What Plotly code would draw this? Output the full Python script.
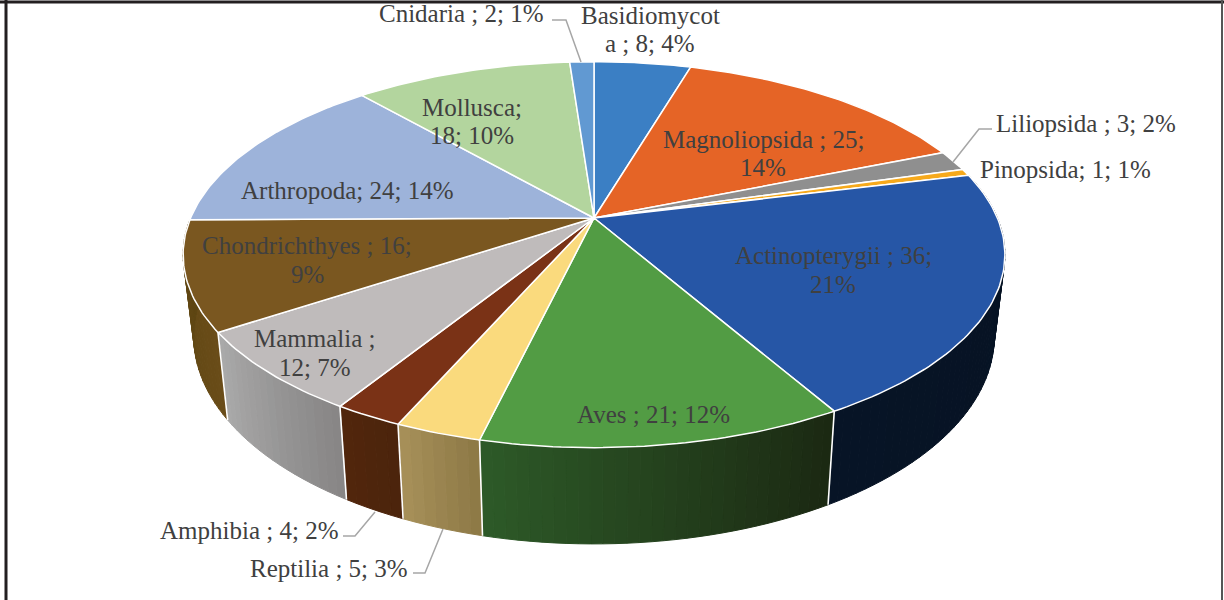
import math
import plotly.graph_objects as go

categories = ["Basidiomycota", "Magnoliopsida", "Liliopsida", "Pinopsida", "Actinopterygii", "Aves",
              "Reptilia", "Amphibia", "Mammalia", "Chondrichthyes", "Arthropoda", "Mollusca", "Cnidaria"]
values = [8, 25, 3, 1, 36, 21, 5, 4, 12, 16, 24, 18, 2]
top_colors = ["#3b7fc4", "#e56426", "#8f8f8f", "#f6a91c", "#2656a6", "#529c44", "#fada7d",
              "#7a3216", "#bfbbbb", "#7a5720", "#9db3da", "#b3d59e", "#6199d2"]
side_left = {"Actinopterygii": "#071426", "Aves": "#2d5a28", "Reptilia": "#a8915a", "Amphibia": "#52260c",
             "Mammalia": "#aaaaaa", "Chondrichthyes": "#5c4512"}
side_right = {"Actinopterygii": "#061222", "Aves": "#1b2812", "Reptilia": "#8c7845", "Amphibia": "#4b240c",
              "Mammalia": "#878585", "Chondrichthyes": "#6a4c18"}
label_texts = ["Basidiomycot", "a ; 8; 4%", "Cnidaria ; 2; 1%", "Magnoliopsida ; 25;", "14%", "Liliopsida ; 3; 2%",
               "Pinopsida; 1; 1%", "Actinopterygii ; 36;", "21%", "Aves ; 21; 12%", "Reptilia ; 5; 3%",
               "Amphibia ; 4; 2%", "Mammalia ;", "12; 7%", "Chondrichthyes ; 16;", "9%",
               "Arthropoda; 24; 14%", "Mollusca;", "18; 10%"]
label_x = [650, 650, 461, 763, 763, 1086, 1065, 833, 833, 653, 329, 249, 315, 315, 307, 307, 347, 472, 472]
label_y = [15, 43, 13, 139, 167, 123, 169, 255, 284, 414, 568, 530, 338, 367, 245, 274, 190, 107, 135]
leaders = [([552, 566, 581], [20, 20, 62]), ([992, 979, 953], [129, 129, 162]),
           ([343, 355, 375], [536, 536, 512]), ([413, 425, 443], [573, 573, 529])]

CX, CY, A, B, K = 594, 218, 403.4, 186, 0.19
CY2, A2, B2 = 297, 393, 200
TEXT = "#404040"


def rim(theta, cy=CY, a=A, b=B):
    d = 1 + K * math.cos(theta)
    return CX + a * math.sin(theta) / d, cy - b * math.cos(theta) / d


def hex_mix(c1, c2, t):
    p = [int(c1[i:i + 2], 16) for i in (1, 3, 5)]
    q = [int(c2[i:i + 2], 16) for i in (1, 3, 5)]
    return "rgb(%d,%d,%d)" % tuple(round(u + (v - u) * t) for u, v in zip(p, q))


total = sum(values)
edges = [0.0]
for v in values:
    edges.append(edges[-1] + v / total * 2 * math.pi)

fig = go.Figure()


def add(xs, ys, **kw):
    fig.add_trace(go.Scatter(x=xs, y=ys, hoverinfo="skip", showlegend=False, **kw))


# side walls (front slices), one narrow strip at a time for the shading
walls = []
for name, t0, t1 in zip(categories, edges[:-1], edges[1:]):
    if name not in side_left:
        continue
    n = max(2, int(abs(t1 - t0) * 40))
    for i in range(n):
        a0 = t0 + (t1 - t0) * i / n
        a1 = t0 + (t1 - t0) * (i + 1) / n
        f = 1 - (i + 0.5) / n
        col = hex_mix(side_left[name], side_right[name], f)
        m = 6
        arc = [a0 + (a1 - a0) * j / m for j in range(m + 1)]
        top = [rim(a) for a in arc]
        bot = [rim(a, CY2, A2, B2) for a in arc]
        pts = top + bot[::-1] + top[:1]
        add([p[0] for p in pts], [p[1] for p in pts], mode="lines", fill="toself", fillcolor=col,
            line=dict(color=col, width=1))
    walls.append((t0, t1))

# white seams on the walls
for t in {round(e, 9) for w in walls for e in w}:
    if t < math.radians(85) or t > math.radians(265):
        continue
    p, q = rim(t), rim(t, CY2, A2, B2)
    add([p[0], q[0]], [p[1], q[1]], mode="lines", line=dict(color="white", width=1.6))

# top face
for name, col, t0, t1 in zip(categories, top_colors, edges[:-1], edges[1:]):
    n = max(4, int((t1 - t0) * 60))
    pts = [(CX, CY)] + [rim(t0 + (t1 - t0) * j / n) for j in range(n + 1)] + [(CX, CY)]
    add([p[0] for p in pts], [p[1] for p in pts], mode="lines", fill="toself", fillcolor=col,
        line=dict(color="white", width=1.5))

# leader lines
for xs, ys in leaders:
    add(xs, ys, mode="lines", line=dict(color="#a6a6a6", width=1.5))

for text, x, y in zip(label_texts, label_x, label_y):
    fig.add_annotation(x=x, y=y, text=text, showarrow=False, xanchor="center", yanchor="middle",
                       font=dict(family="Liberation Serif", size=25, color=TEXT))

frame = "#231f20"
fig.add_shape(type="line", x0=0, x1=1224, y0=2, y1=2, line=dict(color=frame, width=3))
fig.add_shape(type="line", x0=6, x1=6, y0=0, y1=600, line=dict(color=frame, width=3))
fig.add_shape(type="line", x0=1222, x1=1222, y0=0, y1=600, line=dict(color="#555555", width=2))

fig.update_layout(width=1224, height=600, margin=dict(l=0, r=0, t=0, b=0), paper_bgcolor="white",
                  plot_bgcolor="white", showlegend=False,
                  xaxis=dict(range=[0, 1224], visible=False, fixedrange=True),
                  yaxis=dict(range=[600, 0], visible=False, fixedrange=True))
fig.write_html("out.html", config={"displayModeBar": False}, post_script="document.body.style.margin='0';")
